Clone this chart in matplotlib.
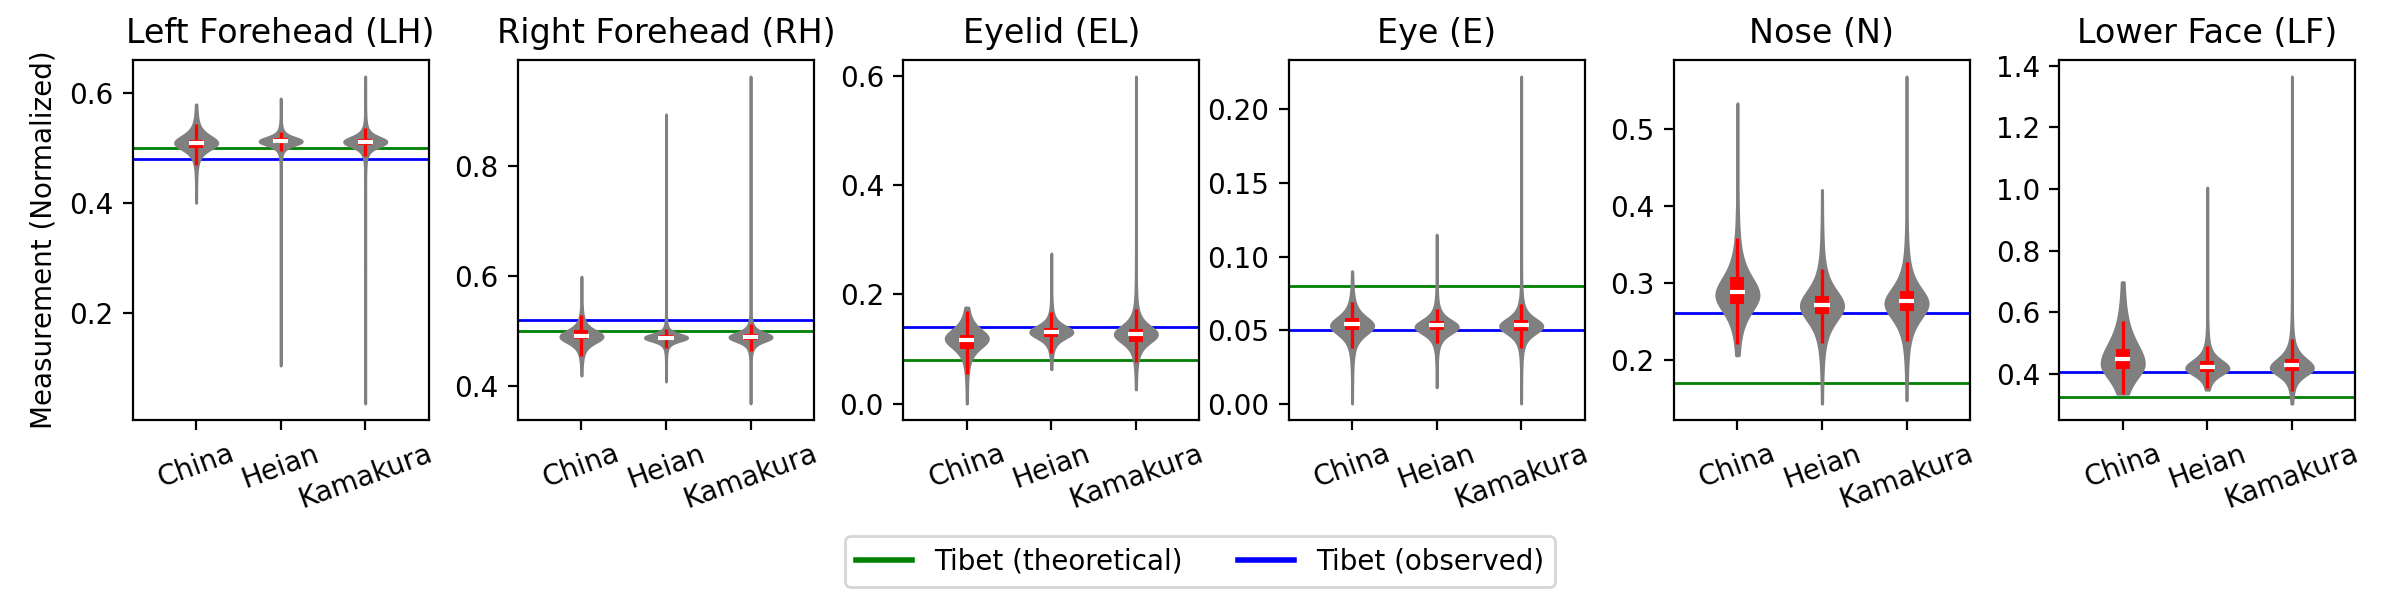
import numpy as np
import matplotlib
matplotlib.use("Agg")
import matplotlib.pyplot as plt
from matplotlib.lines import Line2D

regions = ["Left Forehead (LH)", "Right Forehead (RH)", "Eyelid (EL)",
           "Eye (E)", "Nose (N)", "Lower Face (LF)"]
periods = ["China", "Heian", "Kamakura"]

# Tibet reference lines per region
tibet_theoretical = [0.50, 0.50, 0.08, 0.08, 0.17, 0.325]
tibet_observed = [0.48, 0.52, 0.14, 0.05, 0.26, 0.407]

# per-region summary values (China, Heian, Kamakura)
data_min = [[0.401, 0.105, 0.036], [0.419, 0.408, 0.368], [0.000, 0.063, 0.026],
            [0.000, 0.011, 0.000], [0.2054, 0.1425, 0.147], [0.336, 0.349, 0.304]]
data_max = [[0.580, 0.591, 0.631], [0.599, 0.894, 0.963], [0.176, 0.275, 0.599],
            [0.090, 0.115, 0.2225], [0.534, 0.421, 0.569], [0.698, 1.005, 1.365]]
whisker_lo = [[0.470, 0.495, 0.487], [0.455, 0.469, 0.463], [0.055, 0.093, 0.077],
              [0.0375, 0.0409, 0.0381], [0.2196, 0.2217, 0.2239], [0.336, 0.3546, 0.3437]]
whisker_hi = [[0.544, 0.529, 0.538], [0.530, 0.504, 0.512], [0.169, 0.168, 0.1725],
              [0.0692, 0.0644, 0.0676], [0.3587, 0.3182, 0.3274], [0.5705, 0.4895, 0.5134]]
q1 = [[0.501, 0.509, 0.506], [0.4855, 0.485, 0.484], [0.1006, 0.1226, 0.1134],
      [0.0499, 0.0504, 0.0495], [0.2717, 0.2587, 0.263], [0.417, 0.405, 0.4084]]
q3 = [[0.516, 0.519, 0.518], [0.5024, 0.492, 0.495], [0.126, 0.139, 0.137],
      [0.0583, 0.0563, 0.0572], [0.3073, 0.2825, 0.2887], [0.481, 0.441, 0.4486]]
medians = [[0.509, 0.513, 0.512], [0.4915, 0.488, 0.489], [0.1163, 0.131, 0.128],
           [0.054, 0.0533, 0.0533], [0.288, 0.2708, 0.276], [0.4486, 0.4237, 0.428]]
# violin shape: densest value and spread below / above it
peak = [[0.510, 0.513, 0.512], [0.490, 0.488, 0.489], [0.119, 0.131, 0.127],
        [0.053, 0.0522, 0.0527], [0.284, 0.270, 0.273], [0.433, 0.419, 0.420]]
spread_lo = [[0.014, 0.008, 0.010], [0.013, 0.007, 0.009], [0.020, 0.013, 0.018],
             [0.007, 0.0055, 0.006], [0.026, 0.024, 0.024], [0.057, 0.025, 0.028]]
spread_hi = [[0.015, 0.008, 0.010], [0.013, 0.007, 0.009], [0.020, 0.013, 0.018],
             [0.007, 0.0055, 0.006], [0.028, 0.024, 0.024], [0.080, 0.030, 0.035]]


def shape(coords, pk, slo, shi, nu=2.5):
    s = np.where(coords < pk, slo, shi)
    z = (coords - pk) / s
    return (1 + z ** 2 / nu) ** (-(nu + 1) / 2)


fig = plt.figure(figsize=(12, 3), dpi=200)
positions = np.arange(1, len(periods) + 1)
left0, step, width = 0.0553, 0.16055, 0.1233

for i, region in enumerate(regions):
    ax = fig.add_axes([left0 + i * step, 0.30, width, 0.60])
    ax.axhline(tibet_theoretical[i], color="green", lw=1.0, zorder=1)
    ax.axhline(tibet_observed[i], color="blue", lw=1.0, zorder=1)

    stats = []
    for j in range(len(periods)):
        coords = np.linspace(data_min[i][j], data_max[i][j], 600)
        vals = shape(coords, peak[i][j], spread_lo[i][j], spread_hi[i][j])
        stats.append(dict(coords=coords, vals=vals, mean=medians[i][j],
                          median=medians[i][j], min=data_min[i][j],
                          max=data_max[i][j]))
    parts = ax.violin(stats, positions=positions, widths=0.5,
                      showmeans=False, showextrema=False, showmedians=False)
    for pc in parts["bodies"]:
        pc.set_facecolor("grey")
        pc.set_edgecolor("grey")
        pc.set_alpha(1)
        pc.set_linewidth(1.0)
        pc.set_zorder(2)

    ax.vlines(positions, whisker_lo[i], whisker_hi[i], color="red", lw=1.2, zorder=3)
    ax.vlines(positions, q1[i], q3[i], color="red", lw=5, zorder=3)
    ax.hlines(medians[i], positions - 0.09, positions + 0.09, color="white",
              lw=1.5, zorder=4)

    ax.set_xlim(0.25, 3.75)
    ax.set_xticks(positions)
    ax.set_xticklabels(periods, rotation=20)
    ax.set_title(region, fontsize=12)
    if i == 0:
        ax.set_ylabel("Measurement (Normalized)")

handles = [Line2D([0], [0], color="green", lw=2),
           Line2D([0], [0], color="blue", lw=2)]
fig.legend(handles, ["Tibet (theoretical)", "Tibet (observed)"],
           loc="center", bbox_to_anchor=(0.5, 0.064), ncol=2)

fig.savefig("out.png", dpi=200)
